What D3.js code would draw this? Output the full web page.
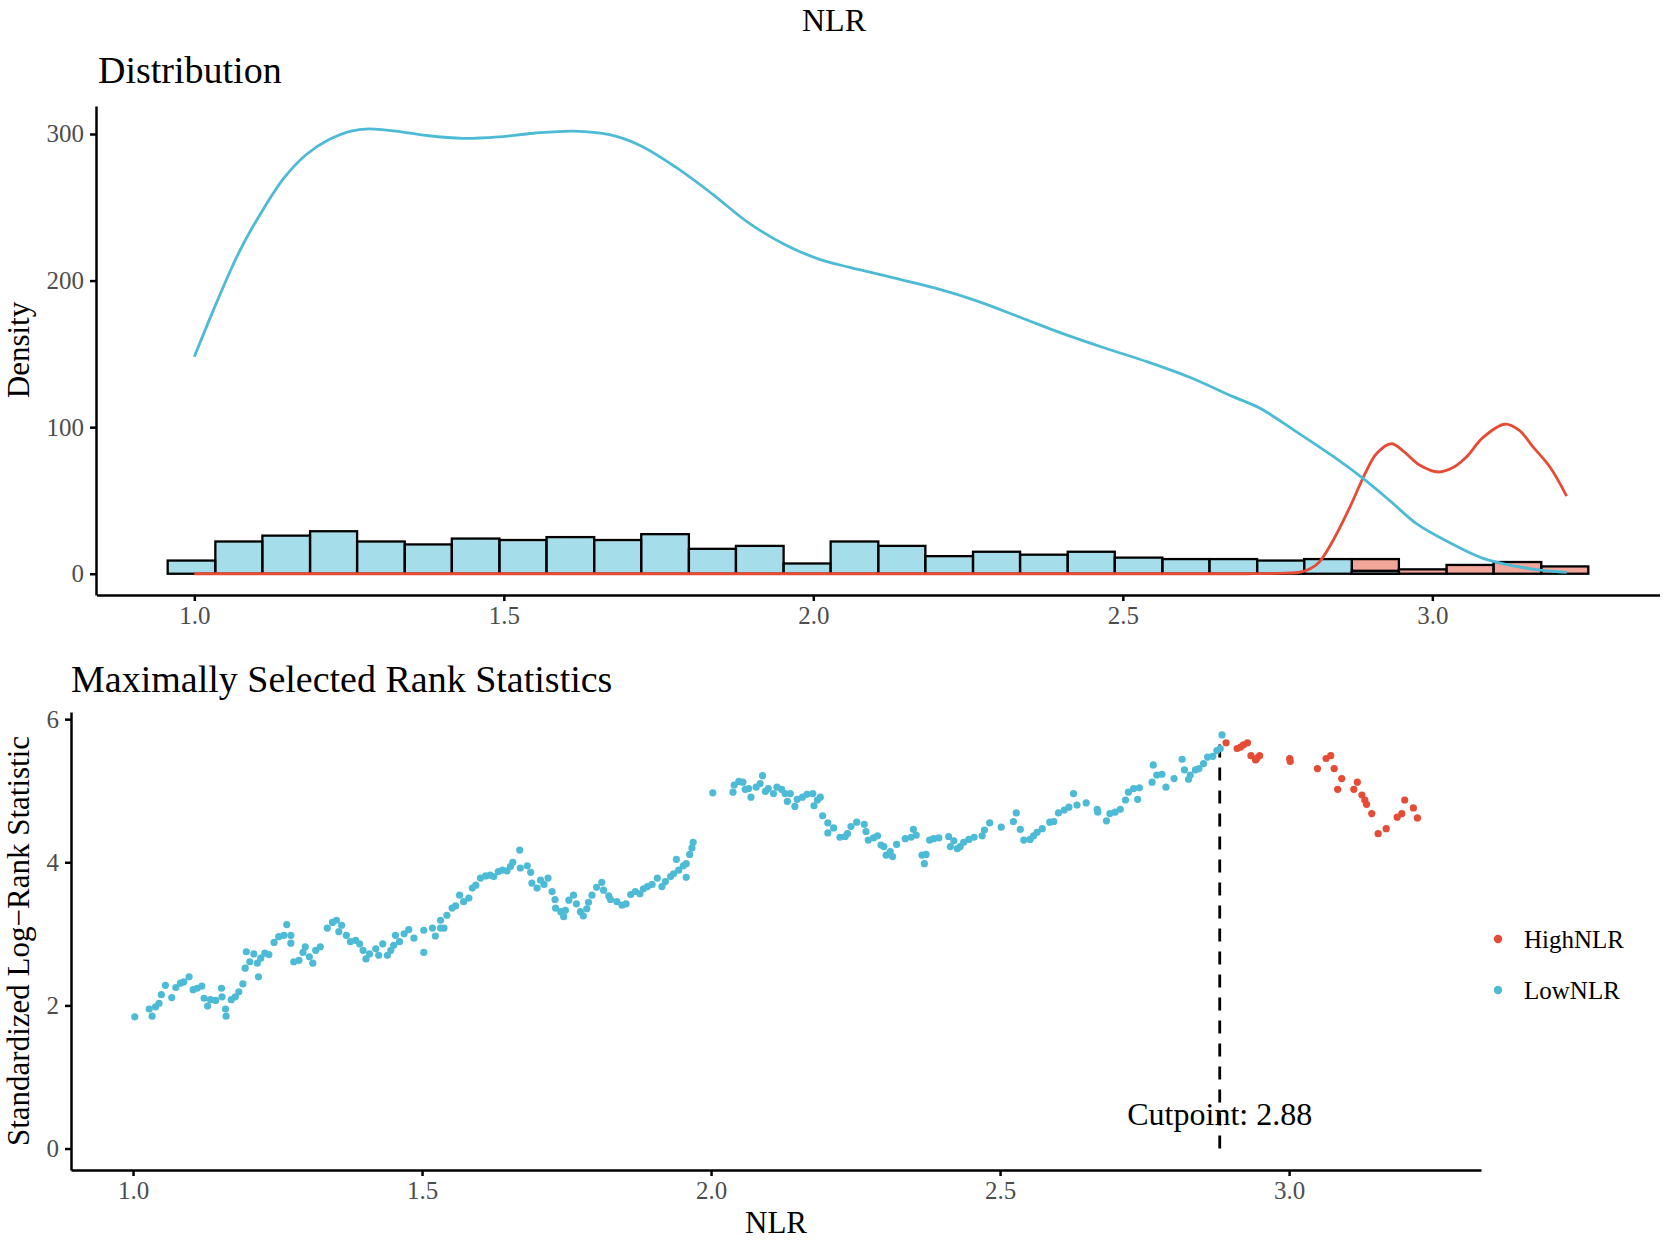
<!DOCTYPE html>
<html>
<head>
<meta charset="utf-8">
<script src="https://cdn.jsdelivr.net/npm/d3@7"></script>
<style>
  body { margin: 0; background: #fff; }
  text { font-family: "Liberation Serif", "DejaVu Serif", serif; }
</style>
</head>
<body>
<script>
// Size
const w = 1666;
const h = 1243;

// Colours (ggsci npg)
const colHigh = "#E64B35";
const colLow = "#4DBBD5";

// Histogram bins (edges) and counts per group
const binEdges = [0.957, 1.034, 1.110, 1.187, 1.263, 1.340, 1.416, 1.493, 1.569, 1.646,
                  1.722, 1.799, 1.875, 1.952, 2.028, 2.105, 2.181, 2.258, 2.334, 2.411,
                  2.487, 2.564, 2.640, 2.717, 2.793, 2.870, 2.946, 3.023, 3.099, 3.176, 3.252];
const lowCounts  = [9, 22, 26, 29, 22, 20, 24, 23, 25, 23, 27, 17, 19, 7, 22,
                    19, 12, 15, 13, 15, 11, 10, 10, 9, 10, 2, 0, 0, 0, 0];
const highCounts = [0, 0, 0, 0, 0, 0, 0, 0, 0, 0, 0, 0, 0, 0, 0,
                    0, 0, 0, 0, 0, 0, 0, 0, 0, 0, 10, 3, 6, 8, 5];

// Density curves [NLR, density]
const lowDensity = [[1.0,148],[1.037,186],[1.073,220],[1.109,247],[1.145,270],[1.181,286],
  [1.217,296],[1.253,302],[1.282,303.5],[1.325,302],[1.375,299],[1.433,297],[1.491,298],
  [1.548,300.5],[1.613,302],[1.671,299.5],[1.721,292],[1.779,277],[1.837,259],[1.895,239.5],
  [1.952,225],[2.01,214.5],[2.059,209],[2.128,202],[2.196,195],[2.265,186],[2.334,175],
  [2.402,164],[2.471,154],[2.54,144.5],[2.608,134],[2.677,121],[2.721,113],[2.78,97],
  [2.84,80],[2.888,65],[2.931,50],[2.975,34],[3.029,21],[3.082,10.5],[3.136,5],[3.174,2.5],[3.217,1]];
const highDensity = [[1.0,0],[1.5,0],[2.0,0],[2.5,0],[2.7,0],[2.75,0.3],[2.79,1.4],[2.815,7],
  [2.84,23],[2.867,45.6],[2.891,68],[2.91,82],[2.934,88.7],[2.955,83],[2.98,74],[3.01,69.4],[3.035,72.8],
  [3.055,79.6],[3.082,93],[3.117,102],[3.14,98],[3.163,86.4],[3.19,72.8],[3.217,53]];

// Standardized log-rank statistic per candidate cutpoint [NLR, stat]
const lowPoints = [[1.003,1.84],[1.028,1.95],[1.033,1.85],[1.039,1.98],[1.045,2.03],[1.049,2.15],
  [1.056,2.28],[1.067,2.11],[1.074,2.25],[1.082,2.31],[1.088,2.33],[1.097,2.40],[1.104,2.22],
  [1.111,2.24],[1.119,2.27],[1.123,2.10],[1.129,1.99],[1.134,2.08],[1.143,2.07],[1.153,2.24],
  [1.154,2.12],[1.160,1.95],[1.161,1.85],[1.170,2.08],[1.177,2.12],[1.183,2.19],[1.190,2.30],
  [1.194,2.52],[1.196,2.75],[1.202,2.61],[1.209,2.72],[1.215,2.59],[1.217,2.40],[1.221,2.66],
  [1.228,2.73],[1.235,2.71],[1.244,2.88],[1.252,2.96],[1.261,2.98],[1.266,3.13],[1.273,2.98],
  [1.273,2.87],[1.278,2.61],[1.287,2.63],[1.294,2.74],[1.298,2.82],[1.305,2.68],[1.311,2.59],
  [1.316,2.77],[1.324,2.82],[1.336,3.08],[1.345,3.16],[1.352,3.19],[1.356,3.03],[1.361,3.12],
  [1.369,2.98],[1.376,2.89],[1.385,2.91],[1.392,2.86],[1.398,2.77],[1.403,2.65],[1.409,2.72],
  [1.420,2.79],[1.425,2.70],[1.432,2.86],[1.440,2.70],[1.446,2.77],[1.451,2.84],[1.454,2.98],
  [1.461,2.89],[1.469,3.00],[1.477,3.06],[1.486,2.94],[1.503,3.05],[1.503,2.74],[1.518,3.08],
  [1.523,2.97],[1.532,3.08],[1.538,3.08],[1.532,3.19],[1.543,3.26],[1.552,3.36],[1.558,3.39],
  [1.565,3.54],[1.572,3.45],[1.581,3.50],[1.587,3.64],[1.593,3.68],[1.601,3.78],[1.610,3.81],
  [1.618,3.82],[1.624,3.80],[1.632,3.87],[1.639,3.89],[1.647,3.88],[1.653,3.94],[1.657,4.00],
  [1.669,4.17],[1.670,3.92],[1.682,3.95],[1.688,3.86],[1.690,3.71],[1.699,3.64],[1.705,3.75],
  [1.711,3.69],[1.718,3.78],[1.725,3.59],[1.730,3.48],[1.731,3.36],[1.740,3.31],
  [1.745,3.24],[1.748,3.33],[1.754,3.47],[1.762,3.54],[1.767,3.42],[1.774,3.31],[1.779,3.25],
  [1.785,3.35],[1.788,3.44],[1.794,3.54],[1.802,3.65],[1.811,3.72],[1.814,3.61],[1.823,3.53],
  [1.826,3.48],[1.837,3.45],[1.846,3.40],[1.853,3.42],[1.861,3.55],[1.869,3.59],[1.877,3.56],
  [1.883,3.63],[1.890,3.66],[1.898,3.69],[1.907,3.78],[1.915,3.66],[1.921,3.73],[1.930,3.80],
  [1.935,3.84],[1.940,4.04],[1.944,3.89],[1.952,3.95],[1.957,3.98],[1.957,3.79],[1.963,4.11],
  [1.967,4.20],[1.969,4.28],[2.003,4.97],[2.038,4.98],[2.040,5.08],[2.048,5.13],[2.055,5.12],
  [2.059,5.02],[2.065,5.03],[2.069,4.91],[2.078,5.05],[2.085,5.10],[2.089,5.21],[2.094,4.99],
  [2.099,5.03],[2.108,4.96],[2.114,5.05],[2.122,5.02],[2.128,4.96],[2.132,4.85],[2.137,4.96],
  [2.145,4.78],[2.149,4.88],[2.158,4.91],[2.166,4.95],[2.176,4.96],[2.178,4.79],[2.184,4.87],
  [2.189,4.91],[2.193,4.65],[2.202,4.55],[2.202,4.41],[2.212,4.48],[2.223,4.35],[2.232,4.36],
  [2.236,4.40],[2.242,4.50],[2.252,4.56],[2.265,4.53],[2.268,4.43],[2.272,4.31],[2.281,4.34],
  [2.288,4.37],[2.294,4.24],[2.299,4.22],[2.303,4.10],[2.310,4.15],[2.314,4.08],[2.321,4.25],
  [2.336,4.33],[2.346,4.35],[2.350,4.46],[2.355,4.38],[2.365,4.10],[2.369,3.98],[2.372,4.11],
  [2.378,4.31],[2.385,4.33],[2.394,4.34],[2.411,4.36],[2.414,4.22],[2.420,4.30],[2.426,4.19],
  [2.431,4.22],[2.437,4.28],[2.446,4.32],[2.455,4.35],[2.469,4.37],[2.473,4.45],[2.482,4.55],
  [2.502,4.49],[2.523,4.57],[2.528,4.69],[2.535,4.46],[2.541,4.31],[2.552,4.32],[2.558,4.37],
  [2.564,4.42],[2.573,4.47],[2.586,4.56],[2.593,4.57],[2.601,4.69],[2.611,4.73],[2.619,4.77],
  [2.627,4.96],[2.633,4.80],[2.649,4.83],[2.668,4.74],[2.669,4.70],[2.684,4.58],[2.690,4.68],
  [2.699,4.70],[2.708,4.74],[2.717,4.87],[2.722,4.98],[2.731,5.03],[2.738,4.88],[2.741,5.04],
  [2.763,5.12],[2.765,5.36],[2.771,5.22],[2.780,5.23],[2.787,5.05],[2.801,5.17],[2.815,5.44],
  [2.819,5.29],[2.826,5.16],[2.829,5.22],[2.838,5.29],[2.844,5.31],[2.852,5.38],[2.859,5.47],
  [2.868,5.48],[2.875,5.56],[2.881,5.59],[2.884,5.78]];
const highPoints = [[2.891,5.67],[2.910,5.59],[2.916,5.61],[2.921,5.64],[2.928,5.67],[2.934,5.49],
  [2.942,5.43],[2.945,5.46],[2.949,5.49],[3.001,5.45],[3.002,5.41],[3.049,5.31],[3.064,5.45],
  [3.072,5.49],[3.078,5.31],[3.084,5.02],[3.091,5.17],[3.112,5.02],[3.118,5.12],[3.126,4.94],
  [3.131,4.87],[3.134,4.81],[3.143,4.68],[3.154,4.40],[3.168,4.47],[3.187,4.63],[3.195,4.68],
  [3.200,4.87],[3.215,4.76],[3.222,4.62]];

const cutpoint = 2.88;
const cutStat = 5.78;

const topXTicks = [1.0, 1.5, 2.0, 2.5, 3.0];
const topYTicks = [0, 100, 200, 300];
const botXTicks = [1.0, 1.5, 2.0, 2.5, 3.0];
const botYTicks = [0, 2, 4, 6];
const legendLabels = ["HighNLR", "LowNLR"];

// Create SVG
const svg = d3.select("body")
              .append("svg")
              .attr("width", w)
              .attr("height", h);

function styleAxis(g) {
    g.select(".domain").attr("stroke", "#000").attr("stroke-width", 2.5);
    g.selectAll(".tick line").attr("stroke", "#000").attr("stroke-width", 2.5);
    g.selectAll(".tick text")
     .attr("fill", "#4D4D4D")
     .style("font-size", "25px")
     .style("font-family", "'Liberation Serif', serif");
}

// ---------- top panel: distribution ----------
const x1 = d3.scaleLinear().domain([0.842, 3.367]).range([96.5, 1659.5]);
const y1 = d3.scaleLinear().domain([-14.5, 319.1]).range([595, 106]);

const topPanel = svg.append("g");

// histograms: HighNLR first, LowNLR over it
[[highCounts, colHigh], [lowCounts, colLow]].forEach(function(pair) {
    topPanel.append("g")
       .selectAll("rect")
       .data(pair[0])
       .enter()
       .append("rect")
       .attr("x", function(d, i) { return x1(binEdges[i]); })
       .attr("width", function(d, i) { return x1(binEdges[i + 1]) - x1(binEdges[i]); })
       .attr("y", function(d) { return y1(d); })
       .attr("height", function(d) { return y1(0) - y1(d); })
       .attr("fill", pair[1])
       .attr("fill-opacity", 0.5)
       .attr("stroke", "#000")
       .attr("stroke-width", 2.3);
});

const densLine = d3.line()
                   .x(function(d) { return x1(d[0]); })
                   .y(function(d) { return y1(Math.max(0, d[1])); })
                   .curve(d3.curveCatmullRom.alpha(0.5));

topPanel.append("path").attr("d", densLine(highDensity))
   .attr("fill", "none").attr("stroke", colHigh).attr("stroke-width", 2.8);
topPanel.append("path").attr("d", densLine(lowDensity))
   .attr("fill", "none").attr("stroke", colLow).attr("stroke-width", 2.8);

topPanel.append("g")
   .attr("transform", "translate(0,595)")
   .call(d3.axisBottom(x1).tickValues(topXTicks).tickFormat(d3.format(".1f"))
           .tickSize(6).tickSizeOuter(0).tickPadding(5))
   .call(styleAxis);
topPanel.append("g")
   .attr("transform", "translate(96,0)")
   .call(d3.axisLeft(y1).tickValues(topYTicks).tickFormat(d3.format("d"))
           .tickSize(6).tickSizeOuter(0).tickPadding(6))
   .call(styleAxis);

// ---------- bottom panel: maximally selected rank statistics ----------
const x2 = d3.scaleLinear().domain([0.8927, 3.332]).range([71, 1481]);
const y2 = d3.scaleLinear().domain([-0.30, 6.10]).range([1170, 712]);

const botPanel = svg.append("g");

botPanel.append("line")
   .attr("x1", x2(cutpoint)).attr("x2", x2(cutpoint))
   .attr("y1", y2(0)).attr("y2", y2(cutStat))
   .attr("stroke", "#000").attr("stroke-width", 2.8)
   .attr("stroke-dasharray", "13,10");

botPanel.append("g").selectAll("circle")
   .data(lowPoints).enter().append("circle")
   .attr("cx", function(d) { return x2(d[0]); })
   .attr("cy", function(d) { return y2(d[1]); })
   .attr("r", 3.6)
   .attr("fill", colLow);

botPanel.append("g").selectAll("circle")
   .data(highPoints).enter().append("circle")
   .attr("cx", function(d) { return x2(d[0]); })
   .attr("cy", function(d) { return y2(d[1]); })
   .attr("r", 3.6)
   .attr("fill", colHigh);

botPanel.append("text")
   .attr("x", x2(cutpoint)).attr("y", 1125)
   .attr("text-anchor", "middle")
   .style("font-size", "32px")
   .text("Cutpoint: " + cutpoint.toFixed(2));

botPanel.append("g")
   .attr("transform", "translate(0,1170)")
   .call(d3.axisBottom(x2).tickValues(botXTicks).tickFormat(d3.format(".1f"))
           .tickSize(6).tickSizeOuter(0).tickPadding(5))
   .call(styleAxis);
botPanel.append("g")
   .attr("transform", "translate(71,0)")
   .call(d3.axisLeft(y2).tickValues(botYTicks).tickFormat(d3.format("d"))
           .tickSize(6).tickSizeOuter(0).tickPadding(6))
   .call(styleAxis);

// legend
const legend = svg.append("g");
legendLabels.forEach(function(lab, i) {
    legend.append("circle")
          .attr("cx", 1498).attr("cy", 939 + i * 51)
          .attr("r", 4.2)
          .attr("fill", i == 0 ? colHigh : colLow);
    legend.append("text")
          .attr("x", 1524).attr("y", 939 + i * 51)
          .attr("dy", "0.35em")
          .style("font-size", "25px")
          .text(lab);
});

// ---------- titles ----------
svg.append("text").attr("x", 834).attr("y", 31)
   .attr("text-anchor", "middle").style("font-size", "32px").text("NLR");
svg.append("text").attr("x", 98).attr("y", 83)
   .style("font-size", "38px").text("Distribution");
svg.append("text").attr("x", 71).attr("y", 692)
   .style("font-size", "38px").text("Maximally Selected Rank Statistics");

svg.append("text")
   .attr("transform", "translate(29,350) rotate(-90)")
   .attr("text-anchor", "middle").style("font-size", "31px").text("Density");
svg.append("text")
   .attr("transform", "translate(29,941) rotate(-90)")
   .attr("text-anchor", "middle").style("font-size", "31px")
   .text("Standardized Log\u2212Rank Statistic");
svg.append("text").attr("x", 776).attr("y", 1233)
   .attr("text-anchor", "middle").style("font-size", "31px").text("NLR");
</script>
</body>
</html>
